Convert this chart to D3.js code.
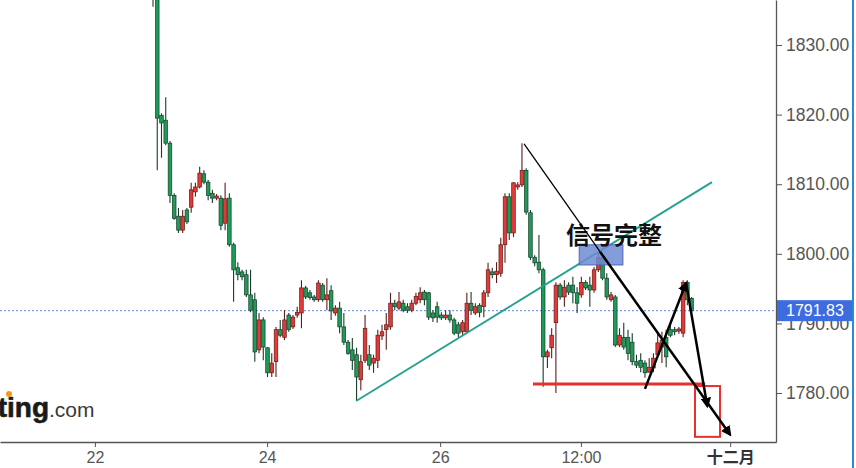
<!DOCTYPE html>
<html><head><meta charset="utf-8">
<script src="https://cdn.jsdelivr.net/npm/d3@7"></script>
<style>html,body{margin:0;padding:0;background:#fff;overflow:hidden}</style>
</head><body><svg id="c" width="856" height="468"></svg>
<script>
const open=[1841.0,1839.0,1819.9,1819.2,1815.9,1808.4,1805.4,1803.4,1806.3,1806.7,1808.9,1809.6,1811.5,1810.3,1808.7,1808.0,1808.0,1804.4,1808.0,1801.3,1798.0,1797.4,1797.0,1794.1,1793.4,1786.2,1790.5,1786.5,1782.9,1784.5,1789.1,1788.0,1791.2,1789.5,1791.2,1791.5,1795.1,1794.4,1793.8,1793.4,1795.5,1793.4,1794.7,1791.5,1792.2,1789.5,1787.3,1786.2,1785.5,1781.9,1784.7,1785.5,1784.3,1784.7,1788.2,1789.1,1789.5,1792.9,1792.2,1792.9,1792.4,1791.9,1792.9,1793.4,1794.5,1794.4,1791.5,1792.4,1791.2,1790.8,1791.2,1790.5,1789.8,1788.8,1788.8,1792.9,1791.5,1792.6,1792.4,1794.4,1797.4,1797.0,1797.2,1801.3,1808.2,1803.0,1809.6,1809.9,1812.0,1805.9,1799.5,1798.8,1797.7,1785.2,1786.5,1790.1,1795.5,1793.8,1795.5,1795.5,1794.4,1794.1,1795.9,1795.5,1794.8,1797.7,1799.5,1796.5,1793.4,1793.8,1786.9,1788.0,1788.0,1787.3,1784.5,1784.7,1784.3,1783.0,1783.6,1785.5,1786.6,1788.0,1789.1,1789.1,1788.9,1788.6,1795.9,1793.6];
const high=[1843.0,1840.0,1820.2,1822.5,1816.2,1808.7,1806.6,1806.3,1806.6,1810.2,1810.2,1812.5,1812.0,1810.6,1809.2,1808.6,1808.4,1810.2,1808.7,1801.6,1798.8,1797.7,1797.7,1797.7,1794.4,1791.5,1790.9,1786.6,1785.7,1789.5,1790.5,1791.9,1791.5,1791.2,1792.4,1796.2,1795.4,1794.8,1794.1,1796.2,1795.8,1796.5,1795.5,1792.6,1793.1,1791.5,1787.6,1787.9,1786.5,1785.5,1791.2,1786.9,1785.5,1789.1,1789.8,1791.5,1794.4,1793.4,1794.5,1793.4,1792.9,1793.4,1794.4,1795.2,1794.8,1794.5,1791.9,1793.1,1791.6,1791.9,1791.9,1790.8,1790.2,1790.5,1794.4,1794.5,1792.9,1792.9,1794.8,1798.7,1798.0,1798.8,1802.3,1808.7,1808.7,1810.3,1810.3,1815.9,1812.3,1806.3,1799.8,1802.7,1798.0,1786.2,1789.3,1795.9,1795.8,1796.2,1795.9,1796.7,1795.2,1796.7,1796.2,1796.7,1798.1,1800.1,1800.1,1797.2,1794.5,1794.1,1789.3,1790.1,1789.1,1788.6,1785.5,1785.7,1784.7,1785.0,1785.7,1788.6,1788.8,1789.1,1789.8,1789.5,1789.5,1796.2,1796.2,1793.8];
const low=[1835.5,1812.0,1813.8,1815.6,1807.3,1804.9,1803.0,1803.0,1804.3,1805.9,1808.2,1809.4,1810.0,1807.7,1807.3,1807.7,1803.4,1803.4,1801.0,1793.1,1796.2,1796.2,1793.8,1791.6,1784.5,1785.7,1784.7,1782.3,1782.3,1782.3,1788.0,1787.6,1788.8,1789.2,1790.8,1789.3,1793.5,1793.4,1793.1,1793.1,1793.1,1791.9,1790.5,1791.1,1788.6,1786.9,1785.5,1783.3,1779.0,1780.4,1784.3,1783.3,1782.9,1783.6,1787.6,1786.2,1789.1,1791.9,1791.9,1791.6,1791.5,1791.6,1792.6,1792.9,1792.6,1790.5,1790.2,1790.1,1790.5,1790.5,1790.1,1788.3,1788.0,1788.3,1788.6,1791.2,1791.2,1790.9,1790.9,1793.8,1796.5,1795.8,1796.7,1798.7,1802.0,1802.4,1809.2,1809.6,1805.6,1799.1,1798.2,1797.2,1780.9,1783.6,1785.0,1780.0,1793.4,1792.4,1794.1,1792.9,1791.5,1793.7,1794.8,1792.4,1794.4,1797.4,1796.2,1793.4,1793.1,1786.6,1786.6,1786.2,1784.7,1784.0,1783.6,1783.0,1782.2,1782.9,1783.0,1785.2,1784.3,1783.7,1788.0,1788.3,1788.5,1788.0,1792.6,1791.6];
const close=[1839.0,1819.5,1818.8,1815.9,1808.4,1805.1,1803.4,1805.4,1804.6,1809.2,1809.6,1811.6,1810.3,1808.4,1808.0,1808.3,1804.1,1807.9,1801.3,1797.7,1797.0,1796.7,1794.1,1791.9,1785.9,1790.5,1786.6,1782.9,1784.3,1789.1,1788.3,1790.5,1789.1,1790.9,1791.6,1795.1,1793.8,1793.7,1793.4,1795.8,1793.4,1794.1,1791.8,1792.2,1789.5,1787.3,1785.7,1784.7,1782.3,1784.5,1789.3,1784.0,1785.0,1788.3,1788.8,1789.8,1792.9,1792.4,1793.1,1791.9,1791.9,1792.9,1793.9,1794.4,1793.4,1790.9,1790.8,1790.9,1790.8,1791.2,1790.5,1788.6,1788.6,1790.1,1792.9,1791.9,1792.4,1791.6,1794.4,1797.7,1797.0,1797.5,1801.3,1808.2,1803.0,1810.2,1809.9,1812.0,1806.0,1799.5,1798.7,1797.7,1785.2,1785.9,1788.3,1795.5,1793.8,1795.2,1794.5,1794.4,1792.9,1795.9,1795.1,1794.8,1797.7,1799.5,1796.5,1793.8,1794.1,1786.9,1788.3,1786.6,1785.7,1784.5,1784.0,1783.7,1782.9,1783.7,1785.0,1787.2,1787.6,1785.2,1788.3,1788.8,1789.2,1795.9,1793.4,1791.83];

const yTicks=[1780,1790,1800,1810,1820,1830];
const xTickIdx=[-13.7,26.9,67.7,100.9,136.1];
const xTickLabels=["22","24","26","12:00","十二月"];
const lastPrice=1791.83;
const trendLine=[{i:47.9,p:1778.85},{i:131.8,p:1810.3}];
const supportLine=[{i:89.6,p:1781.3},{i:130.2,p:1781.3}];
const targetBox={i0:127.8,i1:133.7,p0:1781.0,p1:1773.7};
const signalBox={i0:100.5,i1:110.8,p0:1801.3,p1:1798.4};
const signalText="信号完整";
const signalTextAt={i:108.7,p:1801.4};
const thinLine=[{i:87.5,p:1815.8},{i:105.4,p:1800.3}];
const arrows=[
  [{i:105.4,p:1800.3},{i:136.1,p:1774.0}],
  [{i:116.0,p:1780.6},{i:125.7,p:1795.8}],
  [{i:125.7,p:1795.8},{i:130.7,p:1778.1}]
];

const W=776,H=442;
const svg=d3.select("#c");
const x=d3.scaleLinear().domain([-36.08,146.9]).range([0,W]);
const y=d3.scaleLinear().domain([1772.96,1836.47]).range([H,0]);
const FONT="'Liberation Sans',Arial,sans-serif";

const defs=svg.append("defs");
defs.append("clipPath").attr("id","plot").append("rect")
  .attr("x",0).attr("y",0).attr("width",W).attr("height",H);
defs.append("marker").attr("id","ah").attr("viewBox","0 0 10 10")
  .attr("refX",8).attr("refY",5).attr("markerWidth",4.2).attr("markerHeight",4.2)
  .attr("orient","auto").append("path").attr("d","M0,0 L10,5 L0,10 z").attr("fill","#000");

// watermark
const wm=svg.append("g");
wm.append("text").attr("x",49).attr("y",417).attr("text-anchor","end")
  .attr("font-family",FONT).attr("font-weight","bold").attr("font-size",28).attr("fill","#1a1a1a")
  .attr("stroke","#1a1a1a").attr("stroke-width",0.6).text("investing");
wm.append("text").attr("x",49).attr("y",417)
  .attr("font-family",FONT).attr("font-size",21).attr("fill","#3a3a3a").text(".com");
wm.append("circle").attr("cx",9).attr("cy",394).attr("r",3).attr("fill","#f39c12");

// y axis
const ya=svg.append("g").attr("transform",`translate(${W},0)`)
  .call(d3.axisRight(y).tickValues(yTicks).tickFormat(d3.format(".2f")).tickSize(6).tickPadding(4).tickSizeOuter(0));
ya.select(".domain").attr("stroke","#555").attr("stroke-width",1.3);
ya.selectAll(".tick line").attr("stroke","#555");
ya.selectAll(".tick text").attr("font-family",FONT).attr("font-size",17.5).attr("fill","#555");

// x axis
const xa=svg.append("g").attr("transform",`translate(0,${H})`)
  .call(d3.axisBottom(x).tickValues(xTickIdx).tickFormat((d,i)=>xTickLabels[i]).tickSize(5).tickPadding(5).tickSizeOuter(0));
xa.select(".domain").attr("stroke","#555").attr("stroke-width",1.3);
xa.selectAll(".tick line").attr("stroke","#555");
xa.selectAll(".tick text").attr("font-family",FONT).attr("font-size",16).attr("fill","#555")
  .filter((d,i)=>i===xTickLabels.length-1)
  .attr("font-family","'Noto Sans CJK SC',sans-serif").attr("font-weight","bold").attr("fill","#333").attr("font-size",16);

const g=svg.append("g").attr("clip-path","url(#plot)");

// last price dotted line
g.append("line").attr("x1",0).attr("x2",W).attr("y1",y(lastPrice)).attr("y2",y(lastPrice))
  .attr("stroke","#5b7fe0").attr("stroke-width",1).attr("stroke-dasharray","2,2");

// candles
const data=open.map((o,i)=>({i,o,h:high[i],l:low[i],c:close[i]}));
const up="#e23a36", upS="#5e1c1a", dn="#1f9a58", dnS="#173d2a";
const cg=g.append("g");
cg.selectAll("line.w").data(data).join("line").attr("class","w")
  .attr("x1",d=>x(d.i)).attr("x2",d=>x(d.i)).attr("y1",d=>y(d.h)).attr("y2",d=>y(d.l))
  .attr("stroke",d=>d.c>=d.o?upS:dnS).attr("stroke-width",1.1);
cg.selectAll("rect.b").data(data).join("rect").attr("class","b")
  .attr("x",d=>x(d.i)-1.8).attr("width",3.6)
  .attr("y",d=>y(Math.max(d.o,d.c))).attr("height",d=>Math.max(1,Math.abs(y(d.o)-y(d.c))))
  .attr("fill",d=>d.c>=d.o?up:dn).attr("stroke",d=>d.c>=d.o?upS:dnS).attr("stroke-width",0.7);

const line=d3.line().x(d=>x(d.i)).y(d=>y(d.p));

// trend line
g.append("path").attr("d",line(trendLine)).attr("fill","none").attr("stroke","#26a28f").attr("stroke-width",2);

// support line
g.append("path").attr("d",line(supportLine)).attr("fill","none").attr("stroke","#e8302c").attr("stroke-width",3);

// target box
g.append("rect").attr("x",x(targetBox.i0)).attr("y",y(targetBox.p0))
  .attr("width",x(targetBox.i1)-x(targetBox.i0)).attr("height",y(targetBox.p1)-y(targetBox.p0))
  .attr("fill","none").attr("stroke","#e8302c").attr("stroke-width",2);

// signal box + text
g.append("rect").attr("x",x(signalBox.i0)).attr("y",y(signalBox.p0))
  .attr("width",x(signalBox.i1)-x(signalBox.i0)).attr("height",y(signalBox.p1)-y(signalBox.p0))
  .attr("fill","#6f8bd2").attr("fill-opacity",0.85).attr("stroke","#4a66bf").attr("stroke-width",1);
g.append("text").attr("x",x(signalTextAt.i)).attr("y",y(signalTextAt.p))
  .attr("text-anchor","middle").attr("font-family","'Noto Sans CJK SC',sans-serif").attr("font-weight","bold")
  .attr("font-size",24).attr("fill","#111").text(signalText);

// black lines
g.append("path").attr("d",line(thinLine)).attr("fill","none").attr("stroke","#000").attr("stroke-width",1.3);
arrows.forEach(a=>{
  g.append("path").attr("d",line(a)).attr("fill","none").attr("stroke","#000").attr("stroke-width",2.5)
    .attr("marker-end","url(#ah)");
});

// last price label
const lp=svg.append("g");
lp.append("rect").attr("x",W+1).attr("y",y(lastPrice)-10.5).attr("width",76).attr("height",21).attr("fill","#3d6be0");
lp.append("text").attr("x",W+10).attr("y",y(lastPrice)).attr("dy","0.35em")
  .attr("font-family",FONT).attr("font-size",16).attr("fill","#fff").text(lastPrice.toFixed(2));

// right edge blue line
svg.append("line").attr("x1",853).attr("x2",853).attr("y1",0).attr("y2",468).attr("stroke","#2a8ccc").attr("stroke-width",2);
</script></body></html>
